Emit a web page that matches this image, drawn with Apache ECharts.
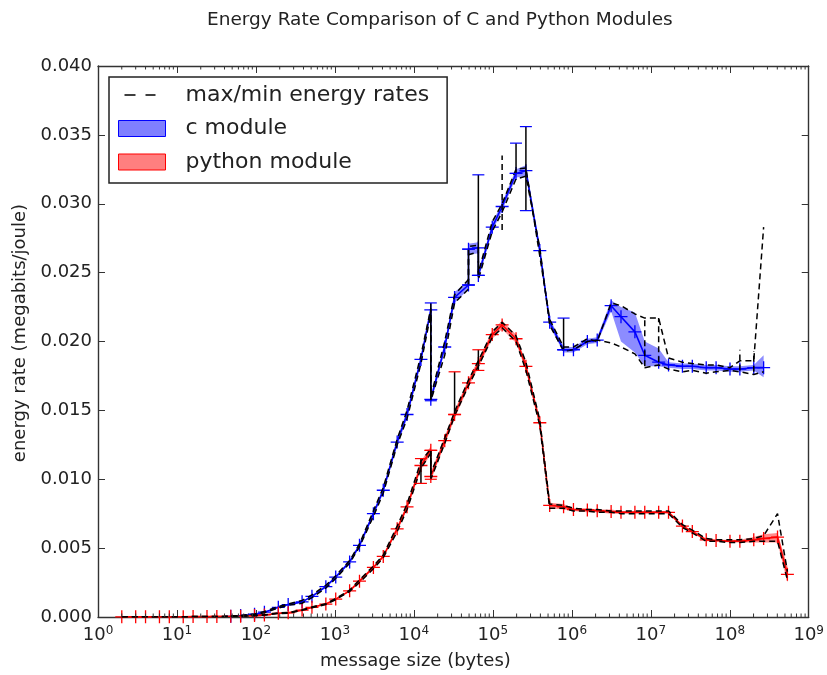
<!DOCTYPE html>
<html>
<head>
    <meta charset='utf-8'>
    <title>Energy Rate Comparison</title>
    <script src='https://cdn.jsdelivr.net/npm/echarts@6/dist/echarts.min.js'></script>
</head>
<body style='margin:0'>
    <div id='main' style='width:827px;height:675px;'></div>
    <script type='text/javascript'>
        // message sizes (bytes) and rates (megabits/joule)
        var cSize = [48, 64, 96, 128, 192, 256, 384, 512, 768, 1024,
            1536, 2048, 3072, 4096, 6144, 8192, 12288, 16384, 16384, 24576,
            32768, 49152, 49152, 65536, 65536, 98304, 131072, 196608, 262144, 393216,
            524288, 786432, 1048576, 1572864, 2097152, 3145728, 4194304, 6291456, 8388608, 12582912,
            16777216, 25165824, 33554432, 50331648, 67108864, 100663296, 134217728, 201326592, 268435456];
        var cMean = [0.00005, 0.0001, 0.0002, 0.00035, 0.0007, 0.0009, 0.0011, 0.0015, 0.0022, 0.0029,
            0.0040, 0.0052, 0.0075, 0.0092, 0.0127, 0.0147, 0.0187, 0.0223, 0.0158, 0.0196,
            0.0232, 0.0241, 0.0267, 0.0268, 0.0248, 0.0283, 0.0298, 0.0322, 0.0324, 0.0266,
            0.0214, 0.0194, 0.0194, 0.0200, 0.0201, 0.0226, 0.0218, 0.0207, 0.0190, 0.0185,
            0.0183, 0.0182, 0.0182, 0.0181, 0.0181, 0.0180, 0.0180, 0.0181, 0.0181];
        var cLow = [0.00004, 0.00009, 0.00018, 0.00032, 0.00066, 0.00086, 0.00105, 0.00144, 0.00212, 0.0028,
            0.00388, 0.00505, 0.0073, 0.0090, 0.0124, 0.0144, 0.0184, 0.0220, 0.0155, 0.0193,
            0.0228, 0.0238, 0.0263, 0.0264, 0.0245, 0.0280, 0.0295, 0.0319, 0.0320, 0.0262,
            0.0211, 0.0192, 0.0192, 0.0198, 0.0199, 0.0222, 0.0200, 0.0192, 0.0182, 0.0182,
            0.0181, 0.0180, 0.0180, 0.0179, 0.0179, 0.0178, 0.0178, 0.0179, 0.0174];
        var cHigh = [0.00006, 0.00011, 0.00022, 0.00038, 0.00074, 0.00094, 0.00115, 0.00156, 0.00228, 0.0030,
            0.00412, 0.00535, 0.0077, 0.0094, 0.0130, 0.0150, 0.0190, 0.0226, 0.0161, 0.0199,
            0.0236, 0.0244, 0.0271, 0.0272, 0.0251, 0.0286, 0.0301, 0.0325, 0.0328, 0.0270,
            0.0217, 0.0196, 0.0196, 0.0202, 0.0203, 0.0230, 0.0225, 0.0221, 0.0200, 0.0195,
            0.0185, 0.0184, 0.0184, 0.0183, 0.0183, 0.0182, 0.0182, 0.0183, 0.0190];
        var cMax = [0.00006, 0.00011, 0.00022, 0.0004, 0.00075, 0.00095, 0.0012, 0.0016, 0.0023, 0.0030,
            0.0041, 0.0053, 0.0077, 0.0094, 0.0129, 0.0150, 0.0190, 0.0224, 0.0160, 0.0200,
            0.0234, 0.0245, 0.0269, 0.0270, 0.0250, 0.0287, 0.0300, 0.0325, 0.0326, 0.0262,
            0.0216, 0.0196, 0.0196, 0.0202, 0.0200, 0.0228, 0.0226, 0.0220, 0.0217, 0.0217,
            0.0188, 0.0185, 0.0184, 0.0183, 0.0183, 0.0181, 0.0186, 0.0186, 0.0283];
        var cMin = [0.00004, 0.00009, 0.00018, 0.0003, 0.00065, 0.00085, 0.0010, 0.0014, 0.0021, 0.0028,
            0.0039, 0.0051, 0.0073, 0.0090, 0.0125, 0.0144, 0.0184, 0.0220, 0.0157, 0.0190,
            0.0228, 0.0238, 0.0263, 0.0265, 0.0245, 0.0280, 0.0294, 0.0318, 0.0320, 0.0268,
            0.0212, 0.0193, 0.0194, 0.0200, 0.0201, 0.0199, 0.0196, 0.0191, 0.0181, 0.0183,
            0.0180, 0.0178, 0.0179, 0.0177, 0.0178, 0.0179, 0.0178, 0.0176, 0.0178];
        // vertical spread bars (solid and dashed) at single sizes
        var cBarSize = [16384, 49152, 65536, 196608, 262144, 786432];
        var cBarLow = [0.0157, 0.0241, 0.0248, 0.0322, 0.0295, 0.0194];
        var cBarHigh = [0.0228, 0.0267, 0.0321, 0.0344, 0.0356, 0.0217];
        var cDashSize = [131072, 8388608, 12582912, 134217728, 201326592];
        var cDashLow = [0.0281, 0.0182, 0.0185, 0.0179, 0.0178];
        var cDashHigh = [0.0335, 0.0217, 0.0217, 0.0194, 0.0193];

        var pySize = [2, 3, 4, 6, 8, 12, 16, 24, 32, 48,
            64, 96, 128, 192, 256, 384, 512, 768, 1024, 1536,
            2048, 3072, 4096, 6144, 8192, 12288, 16384, 16384, 24576, 32768,
            49152, 65536, 98304, 131072, 196608, 262144, 393216, 524288, 786432, 1048576,
            1572864, 2097152, 3145728, 4194304, 6291456, 8388608, 12582912, 16777216, 25165824, 33554432,
            50331648, 67108864, 100663296, 134217728, 201326592, 268435456, 402653184, 536870912];
        var pyMean = [0.00001, 0.00001, 0.00001, 0.00002, 0.00002, 0.00002, 0.00003, 0.00003, 0.00004, 0.00005,
            0.00006, 0.0001, 0.00015, 0.00027, 0.0003, 0.0005, 0.0007, 0.00094, 0.0013, 0.0019,
            0.0026, 0.0036, 0.0044, 0.0064, 0.0080, 0.0110, 0.0121, 0.0102, 0.0128, 0.0147,
            0.0170, 0.0184, 0.0205, 0.0212, 0.0202, 0.0182, 0.0141, 0.0081, 0.0080, 0.0078,
            0.00777, 0.00772, 0.00765, 0.0076, 0.0076, 0.0076, 0.0076, 0.0076, 0.0066, 0.0062,
            0.0056, 0.00555, 0.0055, 0.0055, 0.0056, 0.0057, 0.0058, 0.0031];
        var pyLow = [0.00001, 0.00001, 0.00001, 0.00002, 0.00002, 0.00002, 0.00003, 0.00003, 0.00004, 0.00005,
            0.00005, 0.00009, 0.00014, 0.00025, 0.00028, 0.00047, 0.00066, 0.0009, 0.00125, 0.00183,
            0.0025, 0.0035, 0.0043, 0.0062, 0.0078, 0.0107, 0.0118, 0.0099, 0.0125, 0.0144,
            0.0167, 0.0181, 0.0202, 0.0209, 0.0199, 0.0179, 0.0138, 0.0079, 0.0078, 0.0077,
            0.0076, 0.0076, 0.0075, 0.0075, 0.0075, 0.0075, 0.0075, 0.0075, 0.0065, 0.0061,
            0.0055, 0.0055, 0.0054, 0.0054, 0.0054, 0.0054, 0.0054, 0.0025];
        var pyHigh = [0.00001, 0.00001, 0.00001, 0.00002, 0.00002, 0.00002, 0.00003, 0.00003, 0.00004, 0.00005,
            0.00007, 0.00011, 0.00016, 0.00029, 0.00032, 0.00053, 0.00074, 0.00098, 0.00135, 0.00197,
            0.0027, 0.0037, 0.0045, 0.0066, 0.0082, 0.0113, 0.0124, 0.0105, 0.0131, 0.0150,
            0.0173, 0.0187, 0.0208, 0.0215, 0.0205, 0.0185, 0.0144, 0.0083, 0.0082, 0.0079,
            0.0079, 0.0078, 0.0078, 0.0077, 0.0077, 0.0077, 0.0077, 0.0077, 0.0067, 0.0063,
            0.0057, 0.0056, 0.0056, 0.0056, 0.0058, 0.0060, 0.0061, 0.0037];
        var pyMax = [0.00001, 0.00001, 0.00001, 0.00002, 0.00002, 0.00002, 0.00003, 0.00003, 0.00004, 0.00005,
            0.00007, 0.00011, 0.00016, 0.00029, 0.00032, 0.00052, 0.00073, 0.00097, 0.00134, 0.00195,
            0.0027, 0.0037, 0.0045, 0.0066, 0.0082, 0.0113, 0.0122, 0.0104, 0.0130, 0.0149,
            0.0172, 0.0186, 0.0207, 0.0214, 0.0204, 0.0185, 0.0143, 0.0082, 0.0081, 0.0079,
            0.0078, 0.0078, 0.0077, 0.0077, 0.0077, 0.0077, 0.0077, 0.0077, 0.0067, 0.0063,
            0.0057, 0.0056, 0.0056, 0.0056, 0.0057, 0.0059, 0.0075, 0.0033];
        var pyMin = [0.00001, 0.00001, 0.00001, 0.00002, 0.00002, 0.00002, 0.00003, 0.00003, 0.00004, 0.00005,
            0.00005, 0.00009, 0.00014, 0.00025, 0.00028, 0.00048, 0.00067, 0.00091, 0.00126, 0.00185,
            0.0025, 0.0035, 0.0043, 0.0062, 0.0078, 0.0108, 0.0119, 0.0100, 0.0126, 0.0146,
            0.0168, 0.0182, 0.0203, 0.0210, 0.0200, 0.0179, 0.0139, 0.0079, 0.0079, 0.0077,
            0.0077, 0.0076, 0.0076, 0.0075, 0.0075, 0.0075, 0.0075, 0.0075, 0.0065, 0.0061,
            0.0055, 0.0055, 0.0054, 0.0054, 0.0055, 0.0055, 0.0055, 0.0027];
        var pyBarSize = [12288, 16384, 32768, 65536];
        var pyBarLow = [0.0097, 0.0100, 0.0147, 0.0179];
        var pyBarHigh = [0.0115, 0.0121, 0.0178, 0.0194];

        // log axis minor ticks at 2..9 x 10^k, like matplotlib
        var minorTicks = [];
        for (var k = 0; k < 9; k++) {
            for (var m = 2; m <= 9; m++) minorTicks.push(m * Math.pow(10, k));
        }

        var FONT = 'DejaVu Sans';
        var plus = 'path://M0,4.5H10V5.5H0Z M4.5,0H5.5V10H4.5Z';
        // dashed legend glyph; the two empty subpaths only fix the icon box
        var dashIcon = 'path://M0,0L0,0Z M47,16L47,16Z M6,7.2H17V8.8H6Z M27,7.2H37V8.8H27Z';

        function pairs(xs, ys) {
            return xs.map(function (x, i) { return [x, ys[i]]; });
        }

        function band(name, xs, lo, hi, fill) {
            return {
                name: name,
                type: 'custom',
                z: 1,
                clip: true,
                data: xs.map(function (x, i) { return [x, lo[i], hi[i]]; }),
                encode: { x: 0, y: [1, 2] },
                renderItem: function (params, api) {
                    if (params.dataIndex !== 0) return;
                    var pts = [];
                    for (var i = 0; i < xs.length; i++) pts.push(api.coord([xs[i], hi[i]]));
                    for (var j = xs.length - 1; j >= 0; j--) pts.push(api.coord([xs[j], lo[j]]));
                    return { type: 'polygon', shape: { points: pts }, style: { fill: fill, stroke: null } };
                }
            };
        }

        function bars(name, xs, lo, hi, capColor, dashed) {
            return {
                name: name,
                type: 'custom',
                z: 5,
                data: xs.map(function (x, i) { return [x, lo[i], hi[i]]; }),
                encode: { x: 0, y: [1, 2] },
                renderItem: function (params, api) {
                    var a = api.coord([api.value(0), api.value(1)]);
                    var b = api.coord([api.value(0), api.value(2)]);
                    var kids = [{
                        type: 'line',
                        shape: { x1: a[0], y1: a[1], x2: b[0], y2: b[1] },
                        style: { stroke: '#000', lineWidth: 1.5, lineDash: dashed ? [6, 4] : null }
                    }];
                    if (capColor) {
                        [a, b].forEach(function (p) {
                            kids.push({
                                type: 'line',
                                shape: { x1: p[0] - 6, y1: p[1], x2: p[0] + 6, y2: p[1] },
                                style: { stroke: capColor, lineWidth: 1.2 }
                            });
                        });
                    }
                    return { type: 'group', children: kids };
                }
            };
        }

        function meanLine(name, xs, ys, color) {
            return {
                name: name,
                type: 'line',
                z: 3,
                data: pairs(xs, ys),
                symbol: plus,
                symbolSize: 13,
                itemStyle: { color: color },
                lineStyle: { color: color, width: 1.6 }
            };
        }

        function dashLine(xs, ys) {
            return {
                name: 'max/min energy rates',
                type: 'line',
                z: 4,
                data: pairs(xs, ys),
                symbol: 'none',
                itemStyle: { color: '#000' },
                lineStyle: { color: '#000', width: 1.5, type: [6, 4] }
            };
        }

        var myChart = echarts.init(document.getElementById('main'));

        var axisLine = { show: true, onZero: false, lineStyle: { color: '#333', width: 1.4 } };
        var tick = { show: true, inside: true, length: 7, lineStyle: { color: '#333', width: 1 } };

        var option = {
            animation: false,
            backgroundColor: '#fff',
            textStyle: { fontFamily: FONT },
            title: {
                text: 'Energy Rate Comparison of C and Python Modules',
                left: 202, top: 6,
                textStyle: { fontFamily: FONT, fontSize: 18.5, fontWeight: 'normal', color: '#222' }
            },
            legend: {
                orient: 'vertical',
                left: 109, top: 77,
                padding: [6, 18, 9, 9],
                itemGap: 9.5,
                itemWidth: 47, itemHeight: 16,
                backgroundColor: '#fff',
                borderColor: '#222', borderWidth: 1.5,
                textStyle: { fontFamily: FONT, fontSize: 22, color: '#222', lineHeight: 24, padding: [0, 0, 0, 15] },
                data: [
                    { name: 'max/min energy rates', icon: dashIcon, itemStyle: { color: '#000', borderWidth: 0 } },
                    { name: 'c module', icon: 'rect', itemStyle: { color: 'rgba(0,0,255,0.5)', borderColor: '#0000ff', borderWidth: 1 } },
                    { name: 'python module', icon: 'rect', itemStyle: { color: 'rgba(255,0,0,0.5)', borderColor: '#ff0000', borderWidth: 1 } }
                ]
            },
            grid: { left: 98, right: 15, top: 66, bottom: 58 },
            xAxis: [{
                type: 'log', logBase: 10, min: 1, max: 1e9, splitNumber: 9,
                position: 'bottom',
                name: 'message size (bytes)', nameLocation: 'middle', nameGap: 35,
                nameTextStyle: { fontFamily: FONT, fontSize: 18, color: '#222', padding: [0, 76, 0, 0] },
                axisLine: axisLine, axisTick: tick, splitLine: { show: false },
                axisLabel: {
                    margin: 8, color: '#222',
                    formatter: function (v) {
                        return '{b|10}{s|' + Math.round(Math.log10(v)) + '}';
                    },
                    rich: {
                        b: { fontFamily: FONT, fontSize: 18, color: '#222' },
                        s: { fontFamily: FONT, fontSize: 12, color: '#222', verticalAlign: 'bottom', padding: [0, 0, 9, 0] }
                    }
                }
            }, {
                type: 'log', logBase: 10, min: 1, max: 1e9, splitNumber: 9,
                position: 'top',
                axisLine: axisLine, axisTick: tick, splitLine: { show: false },
                axisLabel: { show: false }
            }],
            yAxis: [{
                type: 'value', min: 0, max: 0.04, interval: 0.005,
                position: 'left',
                name: 'energy rate (megabits/joule)', nameLocation: 'middle', nameGap: 67,
                nameTextStyle: { fontFamily: FONT, fontSize: 18, color: '#222', padding: [0, 0, 0, 17] },
                axisLine: axisLine, axisTick: tick, splitLine: { show: false },
                axisLabel: {
                    margin: 6, color: '#222', fontFamily: FONT, fontSize: 18,
                    formatter: function (v) { return v.toFixed(3); }
                }
            }, {
                type: 'value', min: 0, max: 0.04, interval: 0.005,
                position: 'right',
                axisLine: axisLine, axisTick: tick, splitLine: { show: false },
                axisLabel: { show: false }
            }],
            series: [
                band('c module', cSize, cLow, cHigh, 'rgba(0,0,255,0.45)'),
                band('python module', pySize, pyLow, pyHigh, 'rgba(255,0,0,0.45)'),
                meanLine('c mean', cSize, cMean, '#0000ff'),
                meanLine('python mean', pySize, pyMean, '#ff0000'),
                dashLine(cSize, cMax),
                dashLine(cSize, cMin),
                dashLine(pySize, pyMax),
                dashLine(pySize, pyMin),
                bars('c spread', cBarSize, cBarLow, cBarHigh, '#0000ff', false),
                bars('c dashed spread', cDashSize, cDashLow, cDashHigh, null, true),
                bars('python spread', pyBarSize, pyBarLow, pyBarHigh, '#ff0000', false),
                {
                    name: 'minor ticks',
                    type: 'custom',
                    z: 5,
                    silent: true,
                    data: minorTicks.map(function (v) { return [v, 0]; }),
                    encode: { x: 0, y: 1 },
                    renderItem: function (params, api) {
                        var b = api.coord([api.value(0), 0]);
                        var t = api.coord([api.value(0), 0.04]);
                        var st = { stroke: '#333', lineWidth: 1 };
                        return {
                            type: 'group',
                            children: [
                                { type: 'line', shape: { x1: b[0], y1: b[1], x2: b[0], y2: b[1] - 3.5 }, style: st },
                                { type: 'line', shape: { x1: t[0], y1: t[1], x2: t[0], y2: t[1] + 3.5 }, style: st }
                            ]
                        };
                    }
                }
            ]
        };

        myChart.setOption(option);
    </script>
</body>
</html>
